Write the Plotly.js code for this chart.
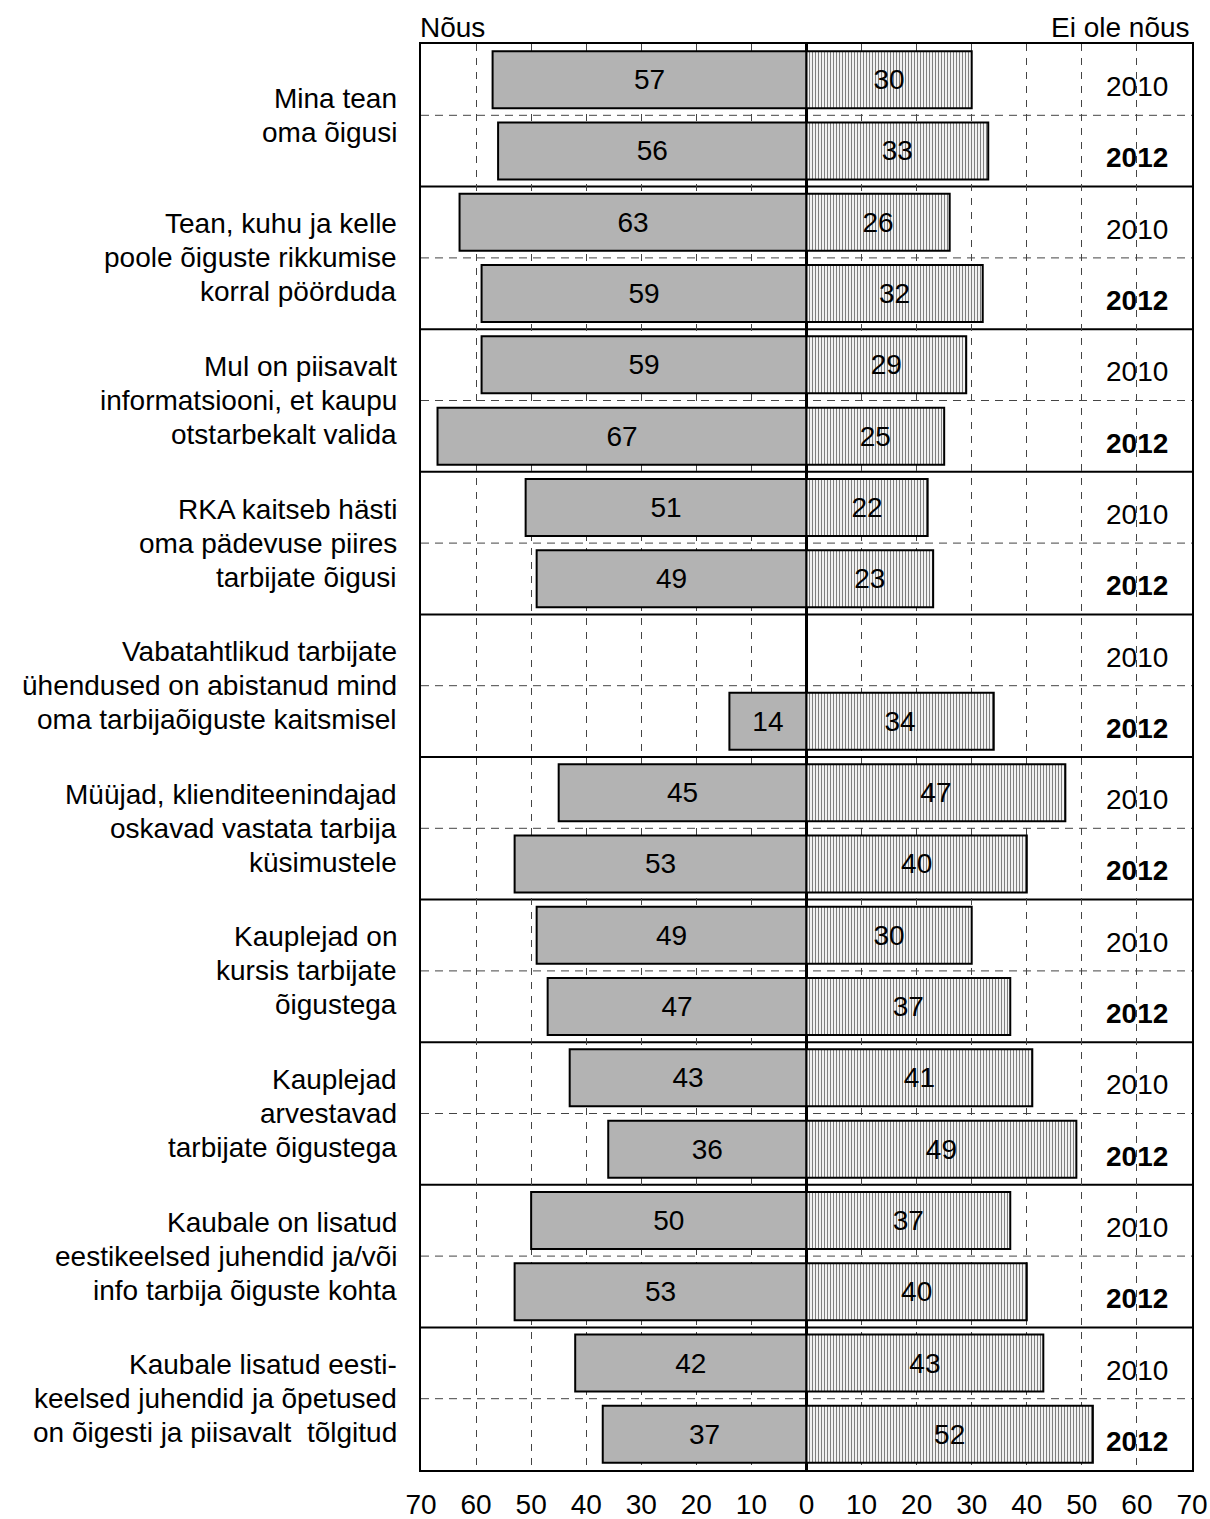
<!DOCTYPE html>
<html>
<head>
<meta charset="utf-8">
<script src="https://cdn.plot.ly/plotly-3.0.1.min.js"></script>
<style>html,body{margin:0;padding:0;background:#fff;}#chart{width:1210px;height:1519px;}</style>
</head>
<body>
<div id="chart"></div>
<script>
const categories = [
  ["Mina tean", "oma õigusi"],
  ["Tean, kuhu ja kelle", "poole õiguste rikkumise", "korral pöörduda"],
  ["Mul on piisavalt", "informatsiooni, et kaupu", "otstarbekalt valida"],
  ["RKA kaitseb hästi", "oma pädevuse piires", "tarbijate õigusi"],
  ["Vabatahtlikud tarbijate", "ühendused on abistanud mind", "oma tarbijaõiguste kaitsmisel"],
  ["Müüjad, klienditeenindajad", "oskavad vastata tarbija", "küsimustele"],
  ["Kauplejad on", "kursis tarbijate", "õigustega"],
  ["Kauplejad", "arvestavad", "tarbijate õigustega"],
  ["Kaubale on lisatud", "eestikeelsed juhendid ja/või", "info tarbija õiguste kohta"],
  ["Kaubale lisatud eesti-", "keelsed juhendid ja õpetused", "on õigesti ja piisavalt  tõlgitud"]
];
const years = ["2010", "2012"];
const agree2010 = [57, 63, 59, 51, null, 45, 49, 43, 50, 42];
const agree2012 = [56, 59, 67, 49, 14, 53, 47, 36, 53, 37];
const disagree2010 = [30, 26, 29, 22, null, 47, 30, 41, 37, 43];
const disagree2012 = [33, 32, 25, 23, 34, 40, 37, 49, 40, 52];
const tickVals = [-70, -60, -50, -40, -30, -20, -10, 0, 10, 20, 30, 40, 50, 60, 70];
const tickText = ["70", "60", "50", "40", "30", "20", "10", "0", "10", "20", "30", "40", "50", "60", "70"];
const leftTitle = "Nõus";
const rightTitle = "Ei ole nõus";

const FONT = "'Liberation Sans', Arial, Helvetica, sans-serif";
const FS = 28;

const yRows = [], leftX = [], leftText = [], rightX = [], rightText = [], rowYear = [];
categories.forEach((c, g) => {
  [[agree2010[g], disagree2010[g]], [agree2012[g], disagree2012[g]]].forEach((pair, k) => {
    const row = 2 * g + k;
    yRows.push(row);
    leftX.push(pair[0] === null ? null : -pair[0]);
    leftText.push(pair[0] === null ? "" : String(pair[0]));
    rightX.push(pair[1]);
    rightText.push(pair[1] === null ? "" : String(pair[1]));
    rowYear.push(years[k]);
  });
});

const commonBar = {
  type: "bar", orientation: "h", y: yRows, width: 0.8,
  textposition: "inside", insidetextanchor: "middle", constraintext: "none",
  textangle: 0, textfont: {family: FONT, size: FS, color: "#000"},
  hoverinfo: "skip", cliponaxis: false
};

const traces = [
  Object.assign({}, commonBar, {
    x: leftX, text: leftText, name: leftTitle,
    marker: {color: "#b3b3b3", line: {color: "#000", width: 2}}
  }),
  Object.assign({}, commonBar, {
    x: rightX, text: rightText, name: rightTitle,
    marker: {color: "#ffffff", line: {color: "#000", width: 2},
      pattern: {shape: "|", size: 3, solidity: 0.4, fgcolor: "#808080", bgcolor: "#ffffff", fillmode: "replace"}}
  })
];

const shapes = [];
const nRows = yRows.length;
for (let r = 0; r < nRows - 1; r++) {
  const boundary = r + 0.5;
  const isGroup = (r % 2 === 1);
  shapes.push({
    type: "line", xref: "paper", x0: 0, x1: 1, yref: "y", y0: boundary, y1: boundary,
    layer: "below",
    line: isGroup ? {color: "#000", width: 2} : {color: "#444", width: 1, dash: "8px,6px"}
  });
}

const annotations = [];
categories.forEach((lines, g) => {
  const n = lines.length;
  lines.forEach((ln, j) => {
    annotations.push({
      xref: "paper", x: 0, xanchor: "right", xshift: -22,
      yref: "y", y: 2 * g + 0.5, yanchor: "middle", yshift: -(j - (n - 1) / 2) * 34,
      text: ln, showarrow: false, align: "right",
      font: {family: FONT, size: FS, color: "#000"}
    });
  });
});
yRows.forEach((r, i) => {
  const yr = rowYear[i];
  annotations.push({
    xref: "x", x: 60, xanchor: "center", yref: "y", y: r, yanchor: "middle", yshift: -7,
    text: yr === "2012" ? "<b>" + yr + "</b>" : yr, showarrow: false,
    font: {family: FONT, size: FS, color: "#000"}
  });
});
annotations.push({
  xref: "paper", x: 0, xanchor: "left", xshift: -3, yref: "paper", y: 1, yanchor: "middle", yshift: 17,
  text: leftTitle, showarrow: false, font: {family: FONT, size: FS, color: "#000"}
});
annotations.push({
  xref: "paper", x: 1, xanchor: "right", xshift: 0, yref: "paper", y: 1, yanchor: "middle", yshift: 17,
  text: rightTitle, showarrow: false, font: {family: FONT, size: FS, color: "#000"}
});

const layout = {
  width: 1210, height: 1519,
  margin: {l: 421, r: 18, t: 44, b: 49, pad: 0},
  paper_bgcolor: "#fff", plot_bgcolor: "#fff",
  showlegend: false, barmode: "overlay",
  font: {family: FONT, size: FS, color: "#000"},
  xaxis: {
    range: [-70, 70], tickvals: tickVals, ticktext: tickText,
    showgrid: true, gridcolor: "#444", gridwidth: 1, griddash: "7px,7px",
    zeroline: true, zerolinecolor: "#000", zerolinewidth: 2.5,
    showline: true, mirror: true, linecolor: "#000", linewidth: 2,
    ticks: "", ticklabelstandoff: 8,
    tickfont: {family: FONT, size: FS, color: "#000"}, fixedrange: true
  },
  yaxis: {
    range: [nRows - 0.5, -0.5], showticklabels: false, showgrid: false, zeroline: false,
    showline: true, mirror: true, linecolor: "#000", linewidth: 2, ticks: "", fixedrange: true
  },
  shapes: shapes,
  annotations: annotations
};

Plotly.newPlot("chart", traces, layout, {staticPlot: true, displayModeBar: false});
</script>
</body>
</html>
